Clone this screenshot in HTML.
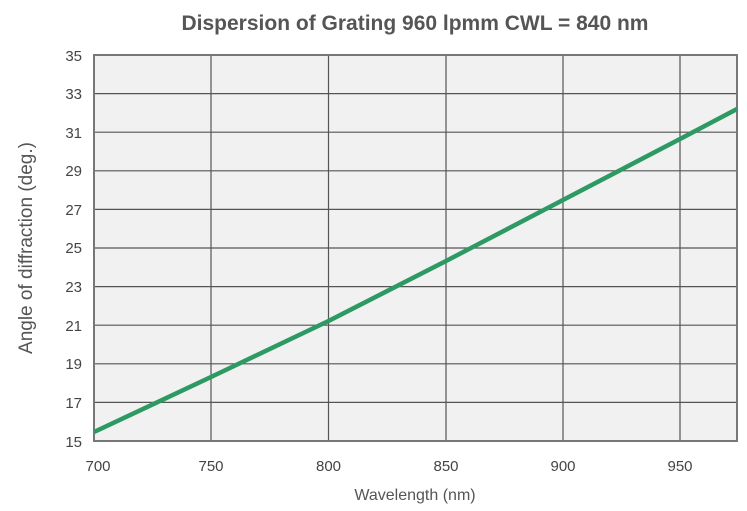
<!DOCTYPE html>
<html><head><meta charset="utf-8"><style>
html,body{margin:0;padding:0;background:#fff;}
svg{display:block;font-family:"Liberation Sans",sans-serif;}
</style></head><body>
<svg width="747" height="511" viewBox="0 0 747 511">
<rect x="94" y="55" width="643" height="386" fill="#f1f1f1"/>
<g stroke="#555" stroke-width="1.2">
<line x1="211" y1="55" x2="211" y2="441"/>
<line x1="328.5" y1="55" x2="328.5" y2="441"/>
<line x1="446" y1="55" x2="446" y2="441"/>
<line x1="563" y1="55" x2="563" y2="441"/>
<line x1="680" y1="55" x2="680" y2="441"/>
<line x1="94" y1="93.6" x2="737" y2="93.6"/>
<line x1="94" y1="132.2" x2="737" y2="132.2"/>
<line x1="94" y1="170.8" x2="737" y2="170.8"/>
<line x1="94" y1="209.4" x2="737" y2="209.4"/>
<line x1="94" y1="248" x2="737" y2="248"/>
<line x1="94" y1="286.6" x2="737" y2="286.6"/>
<line x1="94" y1="325.2" x2="737" y2="325.2"/>
<line x1="94" y1="363.8" x2="737" y2="363.8"/>
<line x1="94" y1="402.4" x2="737" y2="402.4"/>
</g>
<rect x="94" y="55" width="643" height="386" fill="none" stroke="#777" stroke-width="2"/>
<polyline points="94,432 211,377 328.5,321 446,261 563,200 680,139 737,109" fill="none" stroke="#2e9a63" stroke-width="4.5" stroke-linejoin="round"/>
<g font-size="15" fill="#444" text-anchor="end">
<text x="82" y="61">35</text><text x="82" y="99">33</text><text x="82" y="138">31</text>
<text x="82" y="176">29</text><text x="82" y="215">27</text><text x="82" y="253">25</text>
<text x="82" y="292">23</text><text x="82" y="331">21</text><text x="82" y="369">19</text>
<text x="82" y="408">17</text><text x="82" y="447">15</text>
</g>
<g font-size="15" fill="#444" text-anchor="middle">
<text x="98" y="471">700</text><text x="211" y="471">750</text><text x="328.5" y="471">800</text>
<text x="446" y="471">850</text><text x="563" y="471">900</text><text x="680" y="471">950</text>
</g>
<text x="415" y="500" font-size="16" fill="#555" text-anchor="middle">Wavelength (nm)</text>
<text transform="translate(32,248) rotate(-90)" font-size="19" fill="#555" text-anchor="middle">Angle of diffraction (deg.)</text>
<text x="415" y="30" font-size="21" font-weight="bold" fill="#555" text-anchor="middle">Dispersion of Grating 960 lpmm CWL = 840 nm</text>
</svg>
</body></html>
